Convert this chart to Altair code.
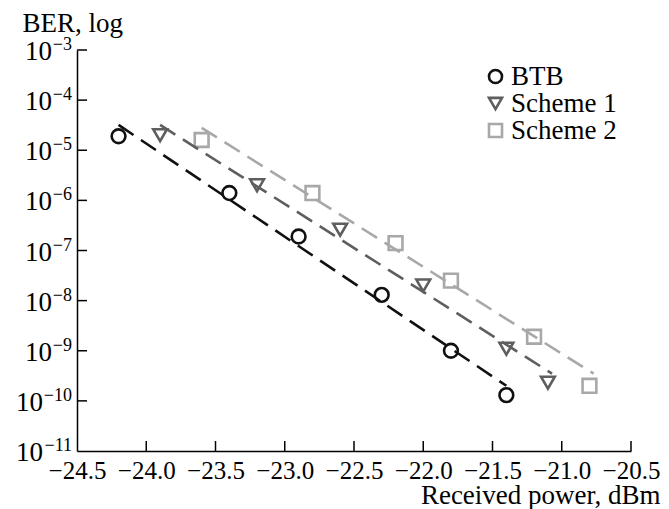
import altair as alt
import pandas as pd

# measured points
series_names = ["BTB", "Scheme 1", "Scheme 2"]
btb_x = [-24.2, -23.4, -22.9, -22.3, -21.8, -21.4]
btb_y = [1.9e-5, 1.4e-6, 1.9e-7, 1.3e-8, 1.0e-9, 1.3e-10]
s1_x = [-23.9, -23.2, -22.6, -22.0, -21.4, -21.1]
s1_y = [2.0e-5, 2.0e-6, 2.6e-7, 2.0e-8, 1.1e-9, 2.3e-10]
s2_x = [-23.6, -22.8, -22.2, -21.8, -21.2, -20.8]
s2_y = [1.6e-5, 1.4e-6, 1.4e-7, 2.5e-8, 1.9e-9, 2.0e-10]

# dashed fit lines (end points)
btb_fit_x = [-24.2, -21.4]
btb_fit_y = [3.2e-5, 2.0e-10]
s1_fit_x = [-23.9, -21.07]
s1_fit_y = [3.2e-5, 3.5e-10]
s2_fit_x = [-23.6, -20.77]
s2_fit_y = [2.8e-5, 3.5e-10]

x_ticks = [-24.5, -24.0, -23.5, -23.0, -22.5, -22.0, -21.5, -21.0, -20.5]
y_exps = [-11, -10, -9, -8, -7, -6, -5, -4, -3]

colors = ["#111111", "#5e5e5e", "#a8a8a8"]
shapes = ["circle", "triangle-down", "square"]

pts = pd.DataFrame(
    [{"x": x, "y": y, "s": series_names[0]} for x, y in zip(btb_x, btb_y)]
    + [{"x": x, "y": y, "s": series_names[1]} for x, y in zip(s1_x, s1_y)]
    + [{"x": x, "y": y, "s": series_names[2]} for x, y in zip(s2_x, s2_y)]
)
fit_sets = [(btb_fit_x, btb_fit_y), (s1_fit_x, s1_fit_y), (s2_fit_x, s2_fit_y)]

W, H = 554, 401
FONT = "Liberation Serif"

xscale = alt.Scale(domain=[-24.5, -20.5], nice=False, zero=False)
yscale = alt.Scale(type="log", domain=[1e-11, 1e-3], nice=False)
cscale = alt.Scale(domain=series_names, range=colors)
sscale = alt.Scale(domain=series_names, range=shapes)

xaxis = alt.Axis(values=x_ticks, format=".1f", title="Received power, dBm",
                 titleAlign="right", titleAnchor="start", titleX=583, titleY=52,
                 titleBaseline="alphabetic", labelPadding=7, labelFlush=False,
                 labelFontSize=25)
yaxis = alt.Axis(values=[10.0 ** e for e in y_exps], labels=False, title="BER, log",
                 titleAngle=0, titleAlign="left", titleAnchor="start",
                 titleX=-55, titleY=-19, titleBaseline="alphabetic")

points = alt.Chart(pts).mark_point(filled=False, size=190, strokeWidth=2.6, opacity=1).encode(
    x=alt.X("x:Q", scale=xscale, axis=xaxis),
    y=alt.Y("y:Q", scale=yscale, axis=yaxis),
    color=alt.Color("s:N", scale=cscale,
                    legend=alt.Legend(title=None, orient="none", legendX=405, legendY=13)),
    shape=alt.Shape("s:N", scale=sscale,
                    legend=alt.Legend(title=None, orient="none", legendX=405, legendY=13)),
)

line_layers = []
for (fx, fy), col in zip(fit_sets, colors):
    line_layers.append(
        alt.Chart(pd.DataFrame({"x": fx, "y": fy})).mark_line(
            strokeDash=[18, 9], strokeWidth=2.6, color=col
        ).encode(x="x:Q", y="y:Q")
    )

xt = alt.Chart(pd.DataFrame({"x": x_ticks[1:]})).mark_rule(color="black", strokeWidth=1.5).encode(
    x="x:Q", y=alt.value(H), y2=alt.value(H - 10)
)
yt = alt.Chart(pd.DataFrame({"y": [10.0 ** e for e in y_exps[1:]]})).mark_rule(color="black", strokeWidth=1.5).encode(
    y="y:Q", x=alt.value(0), x2=alt.value(10)
)

# y tick labels: "10" with a raised exponent
ylab = pd.DataFrame({"e": y_exps})
ylab_base = alt.Chart(ylab).transform_calculate(
    y="pow(10, datum.e)", t="'10'", exp="replace(format(datum.e, 'd'), '-', '−')"
)
exp_text = ylab_base.mark_text(align="right", baseline="alphabetic", font=FONT, fontSize=18,
                               color="black", clip=False).encode(
    y="y:Q", x=alt.value(-5), text="exp:N"
)
ten_short = ylab_base.transform_filter("datum.e > -10").mark_text(
    align="right", baseline="alphabetic", font=FONT, fontSize=27, color="black", dy=10, clip=False
).encode(y="y:Q", x=alt.value(-25), text="t:N")
ten_long = ylab_base.transform_filter("datum.e <= -10").mark_text(
    align="right", baseline="alphabetic", font=FONT, fontSize=27, color="black", dy=10, clip=False
).encode(y="y:Q", x=alt.value(-34), text="t:N")

chart = alt.layer(points, *line_layers, xt, yt, exp_text, ten_short, ten_long).properties(
    width=W, height=H,
    autosize=alt.AutoSizeParams(type="none"),
    padding={"left": 77, "top": 50, "right": 38, "bottom": 58},
    background="white",
).configure_view(stroke=None).configure_axis(
    grid=False, ticks=False, domainColor="black", domainWidth=1.5,
    labelFont=FONT, labelColor="black",
    titleFont=FONT, titleFontSize=27, titleColor="black", titleFontWeight="normal",
).configure_legend(
    labelFont=FONT, labelFontSize=27, labelColor="black", symbolSize=170,
    symbolStrokeWidth=2.6, rowPadding=-3, labelOffset=2, symbolOffset=0,
)

chart.save("out.html", embed_options={"renderer": "svg", "actions": False})
